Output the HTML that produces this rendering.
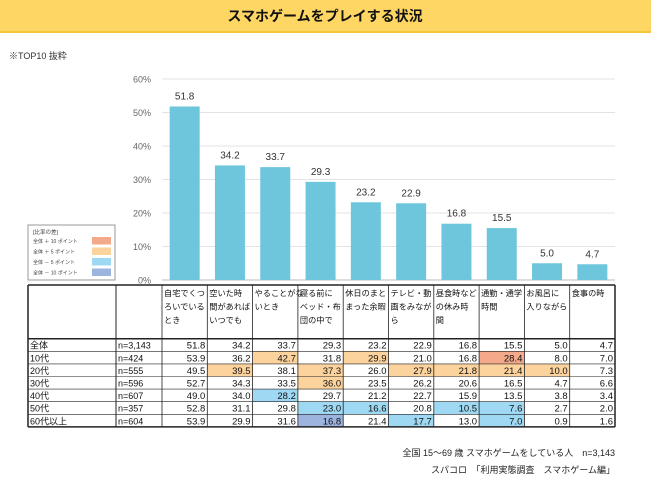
<!DOCTYPE html>
<html><head><meta charset="utf-8">
<style>
body{margin:0;width:651px;height:480px;background:#fff;overflow:hidden;font-family:"Liberation Sans","Noto Sans CJK JP",sans-serif;}
svg{display:block}
</style></head><body>
<svg id="s" width="651" height="480" viewBox="0 0 651 480" xmlns="http://www.w3.org/2000/svg" font-family="Liberation Sans, Noto Sans CJK JP, sans-serif">
<rect x="0" y="0" width="651" height="32" fill="#fdd663"/>
<rect x="0" y="31" width="651" height="2" fill="#f3c63a"/>
<text x="325" y="21" text-anchor="middle" font-size="14" font-weight="bold" fill="#111">スマホゲームをプレイする状況</text>
<text x="9" y="59" font-size="9" fill="#333">※TOP10 抜粋</text>
<g id="legend">
<rect x="28" y="225" width="87" height="55" fill="#fff" stroke="#999" stroke-width="1"/>
<text x="33" y="234" font-size="5.5" fill="#444">[比率の差]</text>
</g>
<g id="chart"></g>
<g id="table"></g>
<text x="615" y="456" text-anchor="end" font-size="9" fill="#222">全国 15～69 歳 スマホゲームをしている人　n=3,143</text>
<text x="615" y="473" text-anchor="end" font-size="9" fill="#222">スパコロ　「利用実態調査　スマホゲーム編」</text>
</svg>
<script>
const categories=[["自宅でくつ","ろいでいる","とき"],["空いた時","間があれば","いつでも"],["やることがな","いとき"],["寝る前に","ベッド・布","団の中で"],["休日のまと","まった余暇"],["テレビ・動","画をみなが","ら"],["昼食時など","の休み時","間"],["通勤・通学","時間"],["お風呂に","入りながら"],["食事の時"]];
const totalValues=[51.8,34.2,33.7,29.3,23.2,22.9,16.8,15.5,5.0,4.7];
const yTicks=[0,10,20,30,40,50,60];
const rowLabels=["全体","10代","20代","30代","40代","50代","60代以上"];
const rowN=["n=3,143","n=424","n=555","n=596","n=607","n=357","n=604"];
const tableValues=[
[51.8,34.2,33.7,29.3,23.2,22.9,16.8,15.5,5.0,4.7],
[53.9,36.2,42.7,31.8,29.9,21.0,16.8,28.4,8.0,7.0],
[49.5,39.5,38.1,37.3,26.0,27.9,21.8,21.4,10.0,7.3],
[52.7,34.3,33.5,36.0,23.5,26.2,20.6,16.5,4.7,6.6],
[49.0,34.0,28.2,29.7,21.2,22.7,15.9,13.5,3.8,3.4],
[52.8,31.1,29.8,23.0,16.6,20.8,10.5,7.6,2.7,2.0],
[53.9,29.9,31.6,16.8,21.4,17.7,13.0,7.0,0.9,1.6]];
const legendLabels=["全体 ＋ 10 ポイント","全体 ＋ 5 ポイント","全体 － 5 ポイント","全体 － 10 ポイント"];

const NS="http://www.w3.org/2000/svg";
function mk(tag,attrs,parent,txt){const e=document.createElementNS(NS,tag);for(const k in attrs)e.setAttribute(k,attrs[k]);if(txt!==undefined)e.textContent=txt;parent.appendChild(e);return e;}
const x0=162,colW=45.3,y0=280,pxPer=201/60;
const yS=v=>y0-v*pxPer;
const xC=i=>x0+colW*i+colW/2;
const chart=document.getElementById('chart');
yTicks.forEach(t=>{
 const l=mk('line',{x1:x0,x2:615,y1:yS(t),y2:yS(t),stroke:t===0?'#bbb':'#e3e3e3','stroke-width':1},chart);
 
 
 const tx=mk('text',{x:151,y:yS(t)+3.5,'text-anchor':'end','font-size':9,fill:'#666'},chart,t+'%');
 
 
});
totalValues.forEach((v,i)=>{
 const r=mk('rect',{x:xC(i)-15,y:yS(v),width:30,height:v*pxPer,fill:'#6ec6dc'},chart);
 
 
 const t=mk('text',{x:xC(i),y:yS(v)-7,'text-anchor':'middle','font-size':10,fill:'#333'},chart,v.toFixed(1));
 
 
});
const lg=document.getElementById('legend');
const lcol=['#f3a98a','#fcd39c','#9fd8f2','#9db4df'];
legendLabels.forEach((s,i)=>{
 const y=241+i*10.5;
 const t=mk('text',{x:33,y:y+2,'font-size':5,fill:'#444'},lg,s);
 
 
 const r=mk('rect',{x:92,y:y-4,width:19,height:7.5,fill:lcol[i]},lg);
 
 
});
const tb=document.getElementById('table');
const tblTop=285,hdrB=338.7,rowH=12.6,tblBot=hdrB+rowH*7,L=28;
function cellColor(r,c){if(r===0)return null;const d=tableValues[r][c]-tableValues[0][c];if(d>=10)return lcol[0];if(d>=5)return lcol[1];if(d<=-10)return lcol[3];if(d<=-5)return lcol[2];return null;}
for(let r=0;r<7;r++){
 const y=hdrB+r*rowH;
 const a=mk('text',{x:30,y:y+10,'font-size':9,fill:'#111'},tb,rowLabels[r]);
 
 
 const b=mk('text',{x:118,y:y+10,'font-size':9,fill:'#111'},tb,rowN[r]);
 
 
 for(let c=0;c<10;c++){
  const col=cellColor(r,c);
  if(col){const bg=mk('rect',{x:x0+c*colW,y:y,width:colW,height:rowH,fill:col},tb);
   
   }
  const t=mk('text',{x:x0+(c+1)*colW-2,y:y+10,'text-anchor':'end','font-size':9.5,fill:'#111'},tb,tableValues[r][c].toFixed(1));
  
  
 }
}
categories.forEach((lines,c)=>{
 lines.forEach((s,k)=>{
  const t=mk('text',{x:x0+c*colW+2,y:tblTop+11+k*13.5,'font-size':8.2,fill:'#111'},tb,s);
  
  
 });
});
function ln(ax,ay,bx,by,w,nm){const l=mk('line',{x1:ax,y1:ay,x2:bx,y2:by,stroke:'#222','stroke-width':w},tb);}
ln(L,tblTop,615,tblTop,1.5,'table-top-border');
ln(L,hdrB,615,hdrB,1.5,'table-header-border');
for(let r=1;r<7;r++)ln(L,hdrB+r*rowH,615,hdrB+r*rowH,0.6,'table-row-border');
ln(L,tblBot,615,tblBot,1.5,'table-bottom-border');
ln(L,tblTop,L,tblBot,1.5,'table-left-border');
ln(116,tblTop,116,tblBot,1,'table-col-border');
for(let c=0;c<=10;c++)ln(x0+c*colW,tblTop,x0+c*colW,tblBot,c===10?1.5:0.8,'table-col-border');
</script>
</body></html>
